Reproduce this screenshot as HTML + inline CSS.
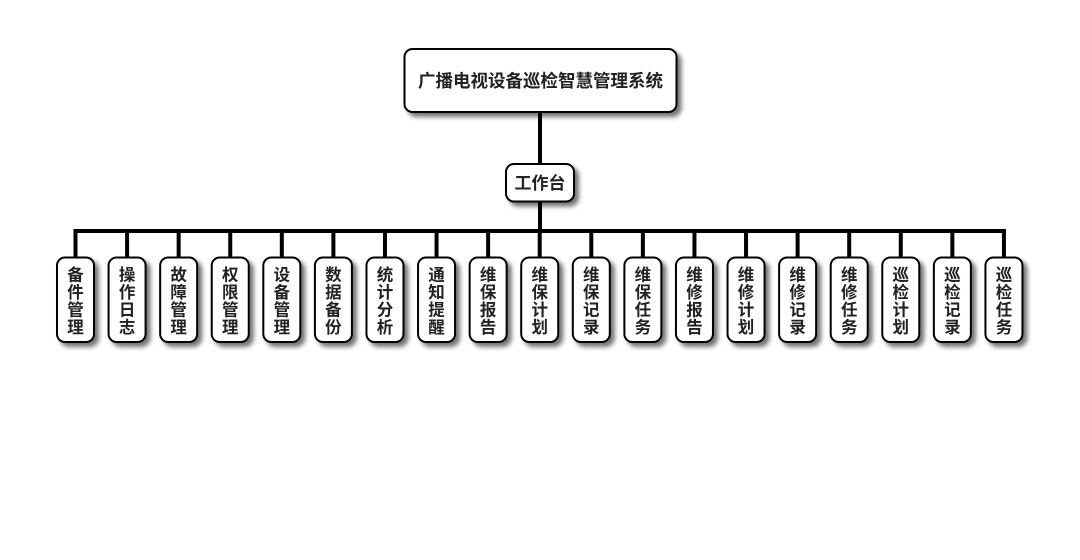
<!DOCTYPE html>
<html>
<head>
<meta charset="utf-8">
<style>
html,body{margin:0;padding:0;background:#fff;}
svg{display:block;}
text{font-family:"Liberation Sans","Noto Sans CJK SC",sans-serif;font-weight:bold;fill:#222;}
</style>
</head>
<body>
<svg width="1080" height="560" viewBox="0 0 1080 560" xmlns="http://www.w3.org/2000/svg">
<defs>
<filter id="sh" x="-30%" y="-30%" width="160%" height="160%">
<feDropShadow dx="4" dy="4" stdDeviation="2.5" flood-color="#000" flood-opacity="0.55"/>
</filter>
</defs>
<g stroke="#000" stroke-width="4" fill="none">
<line x1="540" y1="112" x2="540" y2="164"/>
<line x1="540" y1="201" x2="540" y2="231"/>
<line x1="73.5" y1="231" x2="1006" y2="231"/>
</g>
<g id="leaflines" stroke="#000" stroke-width="4"></g>
<rect x="404.5" y="49" width="272" height="63" rx="8" ry="8" fill="#fff" stroke="#000" stroke-width="2" filter="url(#sh)"/>
<text x="540.5" y="87" font-size="17.5" text-anchor="middle">广播电视设备巡检智慧管理系统</text>
<rect x="506" y="164" width="68" height="37.5" rx="8" ry="8" fill="#fff" stroke="#000" stroke-width="2" filter="url(#sh)"/>
<text x="540" y="189" font-size="17" text-anchor="middle">工作台</text>
<g id="leaves"></g>
</svg>
<script>
(function(){
var labels=["备件管理","操作日志","故障管理","权限管理","设备管理","数据备份","统计分析","通知提醒","维保报告","维保计划","维保记录","维保任务","维修报告","维修计划","维修记录","维修任务","巡检计划","巡检记录","巡检任务"];
var ns="http://www.w3.org/2000/svg";
var g=document.getElementById("leaves");
var ll=document.getElementById("leaflines");
for(var i=0;i<labels.length;i++){
var cx=75.5+i*51.58;
var l=document.createElementNS(ns,"line");
l.setAttribute("x1",cx);l.setAttribute("x2",cx);l.setAttribute("y1",229);l.setAttribute("y2",258);
ll.appendChild(l);
var r=document.createElementNS(ns,"rect");
r.setAttribute("x",cx-18.5);r.setAttribute("y",257.5);r.setAttribute("width",37);r.setAttribute("height",84.5);
r.setAttribute("rx",8);r.setAttribute("ry",8);r.setAttribute("fill","#fff");r.setAttribute("stroke","#000");r.setAttribute("stroke-width",2);
r.setAttribute("filter","url(#sh)");
g.appendChild(r);
for(var k=0;k<4;k++){
var t=document.createElementNS(ns,"text");
t.setAttribute("x",cx);t.setAttribute("y",280.5+k*17.5);
t.setAttribute("font-size",16.5);t.setAttribute("text-anchor","middle");
t.textContent=labels[i].charAt(k);
g.appendChild(t);
}
}
})();
</script>
</body>
</html>
